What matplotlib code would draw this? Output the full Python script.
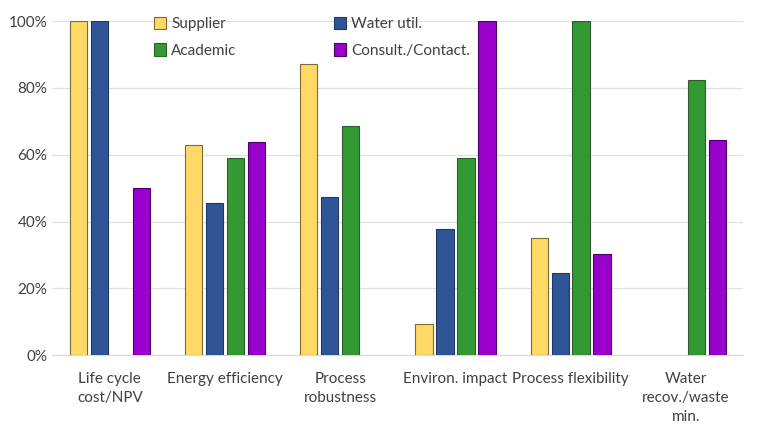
import matplotlib
matplotlib.use('Agg')
import matplotlib.pyplot as plt
import numpy as np
from matplotlib.ticker import PercentFormatter

plt.rcParams['font.family'] = ['Lato', 'DejaVu Sans']
plt.rcParams['font.size'] = 11

categories = ['Life cycle\ncost/NPV', 'Energy efficiency', 'Process\nrobustness',
              'Environ. impact', 'Process flexibility', 'Water\nrecov./waste\nmin.']
series = ['Supplier', 'Water util.', 'Academic', 'Consult./Contact.']

# nan = no response for that category
supplier = [100, 63.0, 87.1, 9.3, 35.2, np.nan]
water_util = [100, 45.4, 47.2, 37.7, 24.5, np.nan]
academic = [np.nan, 58.9, 68.6, 58.9, 100, 82.5]
consult = [50, 63.7, np.nan, 100, 30.2, 64.3]

colors = ['#FFD966', '#2F5597', '#339933', '#9900CC']
edges = ['#7F6A3A', '#1F3864', '#2E5E2E', '#4B0066']

fig = plt.figure(figsize=(7.68, 4.32), dpi=100)
ax = fig.add_axes([0.068, 0.178, 0.9, 0.773])

x = np.arange(len(categories))
width = 0.15
step = 0.182
bars = []
for i, (vals, name) in enumerate(zip([supplier, water_util, academic, consult], series)):
    b = ax.bar(x + (i - 1.5) * step, vals, width, color=colors[i], edgecolor=edges[i],
               linewidth=0.8, label=name, zorder=3)
    bars.append(b)

ax.set_xlim(-0.5, len(categories) - 0.5)
ax.set_ylim(0, 100)
ax.set_yticks(range(0, 101, 20))
ax.yaxis.set_major_formatter(PercentFormatter(decimals=0))
ax.set_xticks(x)
ax.set_xticklabels(categories, linespacing=1.45)
ax.tick_params(axis='both', length=0, colors='#404040', labelsize=11)
ax.tick_params(axis='x', pad=12)
ax.grid(axis='y', color='#E0E0E0', linewidth=0.9, zorder=0)
for s in ['top', 'right', 'left']:
    ax.spines[s].set_visible(False)
ax.spines['bottom'].set_color('#D9D9D9')

# row-wise legend order: Supplier, Water util. / Academic, Consult.
order = [0, 2, 1, 3]
leg = ax.legend([bars[k] for k in order], [series[k] for k in order],
                ncol=2, loc='upper left', bbox_to_anchor=(0.128, 1.055), frameon=False,
                handlelength=0.75, handleheight=0.9, columnspacing=6.4, labelspacing=0.8,
                handletextpad=0.35, fontsize=11, labelcolor='#404040')
leg.set_zorder(10)

fig.savefig('out.png', dpi=100)
